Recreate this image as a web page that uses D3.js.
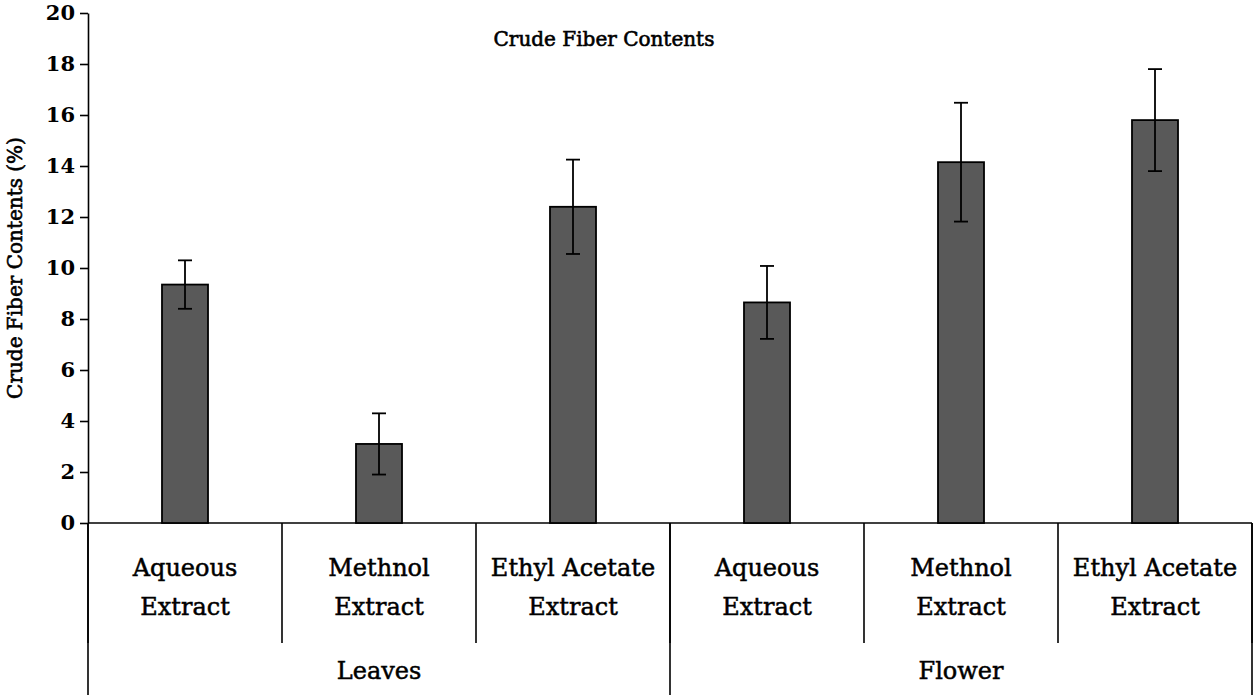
<!DOCTYPE html>
<html>
<head>
<meta charset="utf-8">
<script src="https://cdn.jsdelivr.net/npm/d3@7"></script>
<style>
  body { margin: 0; background: #fff; }
  text { font-family: "Palatino Linotype", "Book Antiqua", "DejaVu Serif", serif; fill: #000; }
  .heavy { stroke: #000; stroke-width: 0.5px; }
</style>
</head>
<body>
<div id="chart"></div>
<script>
// data
var groups = ["Leaves", "Flower"];
var extracts = [["Aqueous", "Extract"], ["Methnol", "Extract"], ["Ethyl Acetate", "Extract"]];
var means = [9.35, 3.1, 12.4, 8.65, 14.15, 15.8];
var errors = [0.95, 1.2, 1.85, 1.43, 2.33, 2.0];
var yTicks = [0, 2, 4, 6, 8, 10, 12, 14, 16, 18, 20];

var width = 1255, height = 695;
var margin = {top: 13, right: 3, left: 88},
    plotBottom = 523;

var cats = [];
groups.forEach(function(g, gi) {
  extracts.forEach(function(e, ei) { cats.push({group: g, label: e, i: gi * extracts.length + ei}); });
});

var x = d3.scaleBand()
    .domain(cats.map(function(d){ return d.i; }))
    .range([margin.left, width - margin.right])
    .padding(0);

var xg = d3.scaleBand()
    .domain(groups)
    .range([margin.left, width - margin.right]);

var y = d3.scaleLinear()
    .domain([0, 20])
    .range([plotBottom, margin.top]);

var svg = d3.select("#chart").append("svg")
    .attr("width", width)
    .attr("height", height);

// y axis
var yAxis = svg.append("g")
    .attr("transform", "translate(" + margin.left + ",0)")
    .call(d3.axisLeft(y).tickValues(yTicks).tickSize(8).tickSizeOuter(0).tickPadding(5));
yAxis.select(".domain").attr("stroke", "#000").attr("stroke-width", 1.6);
yAxis.selectAll(".tick line").attr("stroke", "#000").attr("stroke-width", 1.6);
yAxis.selectAll(".tick text")
    .style("font-family", "'DejaVu Serif', serif")
    .style("font-weight", "bold")
    .style("font-size", "21px");

// baseline
svg.append("line")
    .attr("x1", margin.left).attr("x2", width - margin.right)
    .attr("y1", y(0)).attr("y2", y(0))
    .attr("stroke", "#000").attr("stroke-width", 1.6);

// category dividers (short) and group dividers (full)
var catEdges = cats.map(function(d){ return x(d.i); }).concat([x.range()[1]]);
svg.selectAll(".catdiv").data(catEdges).enter().append("line")
    .attr("x1", function(d){ return d; }).attr("x2", function(d){ return d; })
    .attr("y1", y(0)).attr("y2", 643)
    .attr("stroke", "#000").attr("stroke-width", 1.6);
var grpEdges = groups.map(function(g){ return xg(g); }).concat([xg.range()[1]]);
svg.selectAll(".grpdiv").data(grpEdges).enter().append("line")
    .attr("x1", function(d){ return d; }).attr("x2", function(d){ return d; })
    .attr("y1", y(0)).attr("y2", height)
    .attr("stroke", "#000").attr("stroke-width", 1.6);

// bars
var barW = 46;
svg.selectAll(".bar").data(cats).enter().append("rect")
    .attr("x", function(d){ return x(d.i) + x.bandwidth() / 2 - barW / 2; })
    .attr("y", function(d){ return y(means[d.i]); })
    .attr("width", barW)
    .attr("height", function(d){ return y(0) - y(means[d.i]); })
    .attr("fill", "#595959")
    .attr("stroke", "#000")
    .attr("stroke-width", 1.8);

// error bars
var capW = 14;
var eb = svg.selectAll(".err").data(cats).enter().append("g")
    .attr("stroke", "#000").attr("stroke-width", 1.8);
eb.append("line")
    .attr("x1", function(d){ return x(d.i) + x.bandwidth() / 2; })
    .attr("x2", function(d){ return x(d.i) + x.bandwidth() / 2; })
    .attr("y1", function(d){ return y(means[d.i] + errors[d.i]); })
    .attr("y2", function(d){ return y(means[d.i] - errors[d.i]); });
[1, -1].forEach(function(s) {
  eb.append("line")
      .attr("x1", function(d){ return x(d.i) + x.bandwidth() / 2 - capW / 2; })
      .attr("x2", function(d){ return x(d.i) + x.bandwidth() / 2 + capW / 2; })
      .attr("y1", function(d){ return y(means[d.i] + s * errors[d.i]); })
      .attr("y2", function(d){ return y(means[d.i] + s * errors[d.i]); });
});

// category labels
var lab = svg.selectAll(".catlab").data(cats).enter().append("text")
    .attr("class", "heavy")
    .attr("text-anchor", "middle")
    .style("font-size", "24px");
lab.append("tspan")
    .attr("x", function(d){ return x(d.i) + x.bandwidth() / 2; })
    .attr("y", 576)
    .text(function(d){ return d.label[0]; });
lab.append("tspan")
    .attr("x", function(d){ return x(d.i) + x.bandwidth() / 2; })
    .attr("y", 615)
    .text(function(d){ return d.label[1]; });

// group labels
svg.selectAll(".grplab").data(groups).enter().append("text")
    .attr("class", "heavy")
    .attr("x", function(d){ return xg(d) + xg.bandwidth() / 2; })
    .attr("y", 679)
    .attr("text-anchor", "middle")
    .style("font-size", "24px")
    .text(function(d){ return d; });

// title
svg.append("text")
    .attr("class", "heavy")
    .attr("x", 604).attr("y", 46)
    .attr("text-anchor", "middle")
    .style("font-size", "20px")
    .style("stroke-width", "0.6px")
    .text("Crude Fiber Contents");

// y label
svg.append("text")
    .attr("class", "heavy")
    .attr("transform", "translate(22,268) rotate(-90)")
    .attr("text-anchor", "middle")
    .style("font-size", "20px")
    .style("stroke-width", "0.6px")
    .text("Crude Fiber Contents (%)");
</script>
</body>
</html>
